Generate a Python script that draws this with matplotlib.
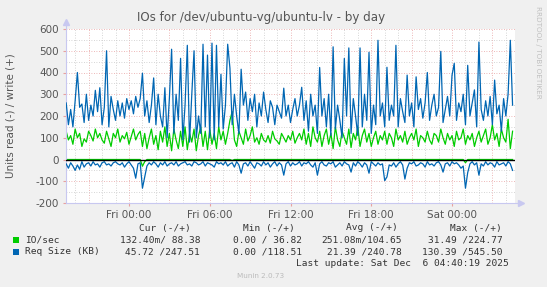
import numpy as np
import matplotlib
matplotlib.use('Agg')
import matplotlib.pyplot as plt

# hours relative to Fri 00:00, one sample every 10 minutes from Thu 19:20
t_start = -4.667
t_step = 1.0 / 6
x_min, x_max = -4.68, 28.68

req_write = [
    260, 160, 230, 150, 270, 400, 240, 255, 170, 300, 180, 250, 200, 318, 220, 330, 160, 240, 500, 150,
    290, 230, 180, 270, 200, 260, 190, 280, 230, 270, 210, 290, 240, 280,
    397, 200, 270, 170, 250, 375, 160, 300, 200, 150, 330, 100, 280, 507, 120, 300, 180, 465, 90, 250,
    525, 80, 300, 500, 100, 200, 120, 530, 150, 480, 100, 535, 90, 525, 150, 392,
    140, 250, 530, 420, 160, 300, 200, 120, 415, 250, 310, 180, 280, 220, 300, 150, 260, 200, 310, 230,
    170, 270, 240, 160, 250, 220, 190, 328, 200, 250, 170, 230, 280, 200, 250,
    332, 180, 270, 130, 300, 200, 250, 120, 423, 200, 280, 150, 300, 110, 518, 140, 250, 180, 100, 465,
    200, 513, 120, 280, 200, 110, 513, 150, 300, 180, 493, 120, 250, 160, 548, 200,
    260, 150, 424, 180, 250, 200, 525, 150, 280, 220, 170, 388, 200, 260, 150, 380, 230, 280, 190, 260,
    400, 180, 250, 300, 200, 240, 497, 170, 230, 290, 200, 387, 442,
    180, 260, 220, 300, 160, 433, 200, 260, 320, 150, 540, 230, 180, 270, 200, 290, 160, 365, 210, 250,
    130, 280, 200, 300, 548, 250,
]

req_read = [
    20, 40, 15, 30, 50, 25, 45, 10, 35, 20, 15, 30, 10, 25, 20, 35, 15, 10, 25, 20,
    30, 15, 10, 20, 25, 15, 35, 20, 10, 25, 40, 86, 20, 15,
    132, 80, 30, 15, 25, 10, 20, 35, 15, 25, 10, 30, 20, 15, 25, 10, 30, 20, 15, 10,
    25, 20, 30, 10, 15, 25, 20, 10, 30, 15, 20, 25, 35, 10, 20, 15,
    25, 10, 30, 20, 15, 35, 10, 25, 63, 20, 15, 30, 10, 25, 40, 15, 20, 30, 10, 25,
    15, 35, 20, 10, 30, 15, 25, 72, 20, 10, 30, 15, 25, 20, 10,
    30, 15, 20, 10, 25, 35, 15, 72, 20, 10, 25, 30, 15, 20, 10, 35, 25, 15, 30, 10,
    20, 25, 58, 15, 30, 10, 20, 35, 15, 25, 63, 10, 20, 30, 15, 25,
    20, 97, 80, 25, 30, 15, 35, 20, 10, 25, 90, 40, 15, 20, 10, 30, 25, 15, 20, 35,
    10, 25, 20, 30, 15, 10, 25, 58, 20, 15, 30, 10, 20,
    15, 25, 40, 30, 132, 60, 20, 10, 25, 15, 72, 20, 30, 10, 25, 15, 20, 35, 10, 25,
    20, 15, 30, 10, 20, 50,
]

io_write = [
    130, 90, 110, 70, 140, 100, 120, 60, 95, 80, 130, 110, 85, 140, 100, 120, 90, 75, 130, 95,
    60, 120, 100, 140, 80, 110, 95, 125, 70, 105, 140, 90, 115, 130,
    60, 120, 50, 100, 140, 70, 110, 45, 130, 80, 150, 60, 120, 40, 140, 90, 50, 130, 60, 150,
    45, 120, 80, 140, 40, 110, 150, 60, 130, 45, 140, 70, 120, 50, 150, 90,
    130, 70, 120, 180, 220, 90, 60, 130, 100, 70, 140, 85, 110, 150, 80, 100, 70, 120, 90, 80,
    110, 75, 130, 95, 85, 70, 120, 100, 80, 110, 90, 130, 75, 100, 120,
    90, 140, 70, 120, 60, 150, 100, 80, 130, 60, 110, 140, 70, 120, 50, 150, 90, 60, 130, 100,
    70, 140, 55, 120, 90, 150, 60, 110, 140, 80, 120, 60, 100, 130, 70, 110,
    90, 130, 70, 120, 100, 60, 140, 90, 110, 80, 130, 70, 100, 120, 90, 140, 60, 110, 100, 80,
    130, 90, 70, 120, 110, 80, 140, 100, 70, 120, 90, 110, 60,
    130, 90, 100, 140, 70, 110, 90, 120, 60, 100, 130, 80, 110, 140, 70, 100, 160, 90, 120, 60,
    140, 100, 80, 185, 50, 130,
]

io_read = [
    0, 0, 0, 0, 0, 0, 0, 0, 0, 0, 0, 0, 0, 0, 0, 0, 0, 0, 0, 0,
    0, 0, 0, 0, 0, 0, 0, 0, 0, 0, 0, 0, 0, 0,
    31, 10, 0, 0, 0, 0, 0, 0, 0, 0, 0, 0, 0, 0, 0, 0, 0, 0, 0, 0,
    0, 0, 0, 0, 0, 0, 0, 0, 0, 0, 0, 0, 0, 0, 0, 0,
    0, 0, 0, 0, 5, 0, 0, 0, 0, 0, 0, 0, 0, 0, 0, 0, 0, 0, 0, 0,
    0, 0, 0, 0, 0, 0, 0, 0, 0, 0, 0, 0, 0, 0, 0,
    0, 0, 0, 0, 0, 0, 0, 0, 0, 0, 0, 0, 0, 0, 0, 0, 0, 0, 0, 0,
    0, 0, 0, 0, 0, 0, 0, 0, 0, 0, 0, 0, 0, 0, 0, 0,
    0, 0, 0, 0, 0, 0, 0, 0, 0, 0, 0, 0, 0, 0, 0, 0, 0, 0, 0, 0,
    0, 0, 0, 0, 0, 0, 0, 0, 0, 0, 0, 0, 0,
    0, 0, 0, 0, 15, 0, 0, 0, 0, 0, 0, 0, 0, 0, 0, 0, 0, 0, 0, 0,
    0, 0, 0, 0, 0, 0,
]

y_ticks = [600, 500, 400, 300, 200, 100, 0, -100, -200]
x_tick_pos = [0, 6, 12, 18, 24]
x_tick_labels = ['Fri 00:00', 'Fri 06:00', 'Fri 12:00', 'Fri 18:00', 'Sat 00:00']

legend_rows = [
    ('IO/sec', '#00CC00', ['132.40m/ 88.38', '0.00 / 36.82', '251.08m/104.65', '31.49 /224.77']),
    ('Req Size (KB)', '#0066B3', ['45.72 /247.51', '0.00 /118.51', '21.39 /240.78', '130.39 /545.50']),
]
legend_headers = ['Cur (-/+)', 'Min (-/+)', 'Avg (-/+)', 'Max (-/+)']


def times_for(values):
    return t_start + t_step * np.arange(len(values))


W, H = 547, 287
fig = plt.figure(figsize=(W / 100, H / 100), dpi=100, facecolor='#F0F0F0')


def px(x, y):
    return x / W, 1 - y / H


left, right, top, bottom = 66, 515, 29, 203
ax = fig.add_axes([left / W, 1 - bottom / H, (right - left) / W, (bottom - top) / H])
ax.set_facecolor('white')
ax.set_xlim(x_min, x_max)
ax.set_ylim(-200, 600)

# grid: gray dotted minor, red dotted major
grid_gray = '#C8C8C8'
grid_red = '#E8A0A0'
for h in np.arange(-4, 29, 1):
    ax.axvline(h, color=grid_red if h % 3 == 0 else grid_gray, lw=0.6, ls=(0, (1, 2)), zorder=0)
for v in np.arange(-150, 600, 50):
    ax.axhline(v, color=grid_red if v % 100 == 0 else grid_gray, lw=0.6, ls=(0, (1, 2)), zorder=0)
ax.axhline(600, color=grid_red, lw=0.6, ls=(0, (1, 2)), zorder=0)

green = '#00CC00'
blue = '#0066B3'
ax.plot(times_for(io_write), io_write, color=green, lw=0.9, zorder=2)
ax.plot(times_for(io_read), -np.array(io_read), color=green, lw=0.9, zorder=2)
ax.plot(times_for(req_write), req_write, color=blue, lw=0.9, zorder=3)
ax.plot(times_for(req_read), -np.array(req_read), color=blue, lw=0.9, zorder=3)
ax.axhline(0, color='black', lw=1.0, zorder=4)

for s in ax.spines.values():
    s.set_visible(False)
axis_col = '#C8C8F0'
ax.plot([0, 1.013], [0, 0], transform=ax.transAxes, color=axis_col, lw=0.8, clip_on=False)
ax.plot([0, 0], [0, 1.04], transform=ax.transAxes, color=axis_col, lw=0.8, clip_on=False)
ax.plot([1.013], [0], transform=ax.transAxes, marker='>', color=axis_col, ms=4, clip_on=False)
ax.plot([0], [1.04], transform=ax.transAxes, marker='^', color=axis_col, ms=4, clip_on=False)

ax.set_yticks(y_ticks)
ax.set_yticklabels([str(v) for v in y_ticks])
ax.set_xticks(x_tick_pos)
ax.set_xticklabels(x_tick_labels)
ax.tick_params(axis='both', labelsize=7.5, labelcolor='#555555', length=2, color=grid_red, pad=3)

fig.text(*px(261, 18), 'IOs for /dev/ubuntu-vg/ubuntu-lv - by day', ha='center', va='center',
         fontsize=8.6, color='#555555')
fig.text(*px(11, 116), 'Units read (-) / write (+)', rotation=90, ha='center', va='center',
         fontsize=7.5, color='#555555')
fig.text(*px(538, 52), 'RRDTOOL / TOBI OETIKER', rotation=270, ha='center', va='center',
         fontsize=5.2, color='#C0C0C0')

mono = 'DejaVu Sans Mono'
col_right = [200, 302, 402, 503]
head_right = [191, 295, 398, 502]
for hx, htxt in zip(head_right, legend_headers):
    fig.text(*px(hx, 228), htxt, ha='right', va='center', family=mono, fontsize=6.8, color='#333333')
for row, (name, col, vals) in enumerate(legend_rows):
    y = 240 + row * 12
    fig.patches.append(plt.Rectangle(px(13, y + 3), 6 / W, 6 / H, transform=fig.transFigure,
                                     facecolor=col, edgecolor='none'))
    fig.text(*px(25, y), name, ha='left', va='center', family=mono, fontsize=6.8, color='#333333')
    for cx, v in zip(col_right, vals):
        fig.text(*px(cx, y), v, ha='right', va='center', family=mono, fontsize=6.8, color='#333333')
fig.text(*px(509, 264), 'Last update: Sat Dec  6 04:40:19 2025', ha='right', va='center',
         family=mono, fontsize=6.8, color='#333333')
fig.text(*px(261, 276), 'Munin 2.0.73', ha='center', va='center', fontsize=5.2, color='#BBBBBB')

fig.savefig('out.png', dpi=100, facecolor=fig.get_facecolor())
